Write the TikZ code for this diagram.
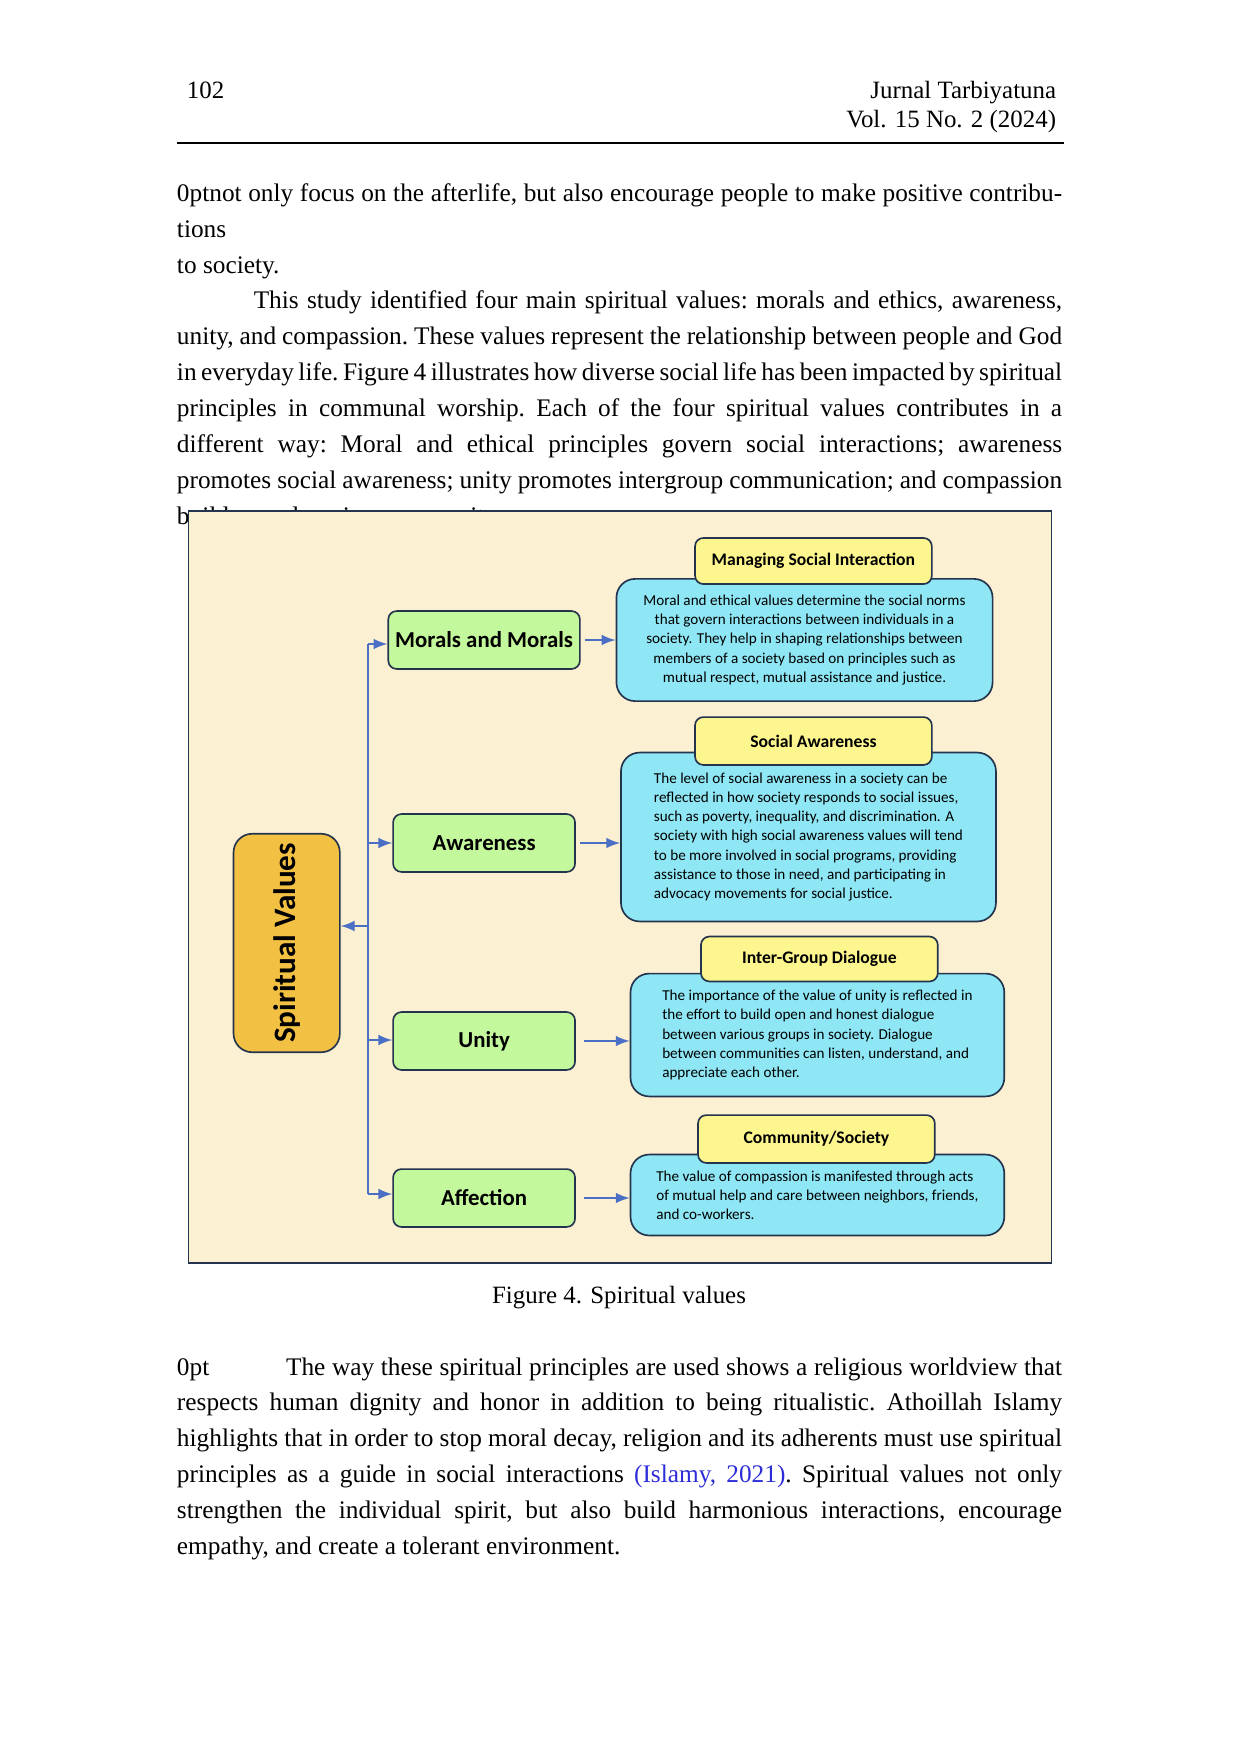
\documentclass[tikz,border=0pt]{standalone}
\usepackage{fontspec}
\setmainfont{Liberation Serif}
\newfontfamily\calib{Carlito}
\usepackage{tikz}

\definecolor{bgfig}{HTML}{FCF0D2}
\definecolor{svfill}{HTML}{F2C042}
\definecolor{grn}{HTML}{C4F89C}
\definecolor{blu}{HTML}{8FE6F4}
\definecolor{ylw}{HTML}{FDF68E}
\definecolor{edge}{HTML}{24344F}
\definecolor{arr}{HTML}{4A6FC4}
\definecolor{cite}{HTML}{2D2DD8}

\begin{document}
\begin{tikzpicture}[x=0.168mm,y=-0.16935mm,
  para/.style={anchor=north west,inner sep=0pt,text width=149.9mm,align=justify,font=\fontsize{12.2pt}{17.3pt}\selectfont\frenchspacing\hyphenpenalty=10000},
  grbox/.style={draw=edge,fill=grn,rounded corners=4pt,thick,font=\calib\bfseries\fontsize{11pt}{13pt}\selectfont},
  blbox/.style={draw=edge,fill=blu,rounded corners=9pt,thick,font=\calib\fontsize{7.3pt}{9.2pt}\selectfont},
  ylbox/.style={draw=edge,fill=ylw,rounded corners=4pt,thick,font=\calib\bfseries\fontsize{8.5pt}{10pt}\selectfont},
  link/.style={draw=arr,line width=1.3pt,-latex}]
\useasboundingbox (0,0) rectangle (1250,1752);

% header
\node[anchor=base west,font=\fontsize{12pt}{14pt}\selectfont] (pg) at (181,98) {102};
\node[anchor=base east,font=\fontsize{12pt}{14pt}\selectfont] (jr) at (1072,98) {Jurnal Tarbiyatuna};
\node[anchor=base east,font=\fontsize{12pt}{14pt}\selectfont] (vol) at (1072,127) {Vol. 15 No. 2 (2024)};
\draw[line width=0.8pt] (178,143) -- (1073,143);

% text above
\node[para] (top) at (178,183) {%
not only focus on the afterlife, but also encourage people to make positive contributions\linebreak to society.\par
\hspace*{13mm}This study identified four main spiritual values: morals and ethics, awareness,\linebreak unity, and compassion. These values represent the relationship between people and God\linebreak in everyday life. Figure 4 illustrates how diverse social life has been impacted by spiritual\linebreak principles in communal worship. Each of the four spiritual values contributes in a\linebreak different way: Moral and ethical principles govern social interactions; awareness\linebreak promotes social awareness; unity promotes intergroup communication; and compassion\linebreak builds a welcoming community.};

% figure
\draw[draw=edge,fill=bgfig,line width=0.6pt] (190,511) rectangle (1060,1263);

\node[draw=edge,fill=svfill,rounded corners=9pt,thick,minimum width=18mm,minimum height=37mm] (sv) at (289,943) {};
\node[rotate=90,font=\calib\bfseries\fontsize{15pt}{17pt}\selectfont] (svt) at (289,943) {Spiritual Values};

\node[grbox,minimum width=30.8mm,minimum height=9.8mm] (morals) at (488,640) {Morals and Morals};
\node[grbox,minimum width=30.8mm,minimum height=9.8mm] (aware) at (488,843) {Awareness};
\node[grbox,minimum width=30.8mm,minimum height=9.8mm] (unity) at (488,1041) {Unity};
\node[grbox,minimum width=30.8mm,minimum height=9.8mm] (affect) at (488,1198) {Affection};

% spine
\coordinate (s1) at (371,644);
\coordinate (s2) at (371,843);
\coordinate (s3) at (371,1040);
\coordinate (s4) at (371,1194);
\coordinate (sm) at (371,926);
\draw[draw=arr,line width=1.3pt] (s1) -- (s4);
\draw[link] (s1) -- (morals.west |- s1);
\draw[link] (s2) -- (aware.west |- s2);
\draw[link] (s3) -- (unity.west |- s3);
\draw[link] (s4) -- (affect.west |- s4);
\draw[link] (sm) -- (sv.east |- sm);

% descriptions
\node[blbox,minimum width=63.7mm,minimum height=20.7mm,align=center] (mtxt) at (811,640) {Moral and ethical values determine the social norms\\that govern interactions between individuals in a\\society. They help in shaping relationships between\\members of a society based on principles such as\\mutual respect, mutual assistance and justice.};
\node[blbox,minimum width=63.5mm,minimum height=28.6mm,align=left] (atxt) at (815,837) {The level of social awareness in a society can be\\reflected in how society responds to social issues,\\such as poverty, inequality, and discrimination. A\\society with high social awareness values will tend\\to be more involved in social programs, providing\\assistance to those in need, and participating in\\advocacy movements for social justice.};
\node[blbox,minimum width=63.3mm,minimum height=20.8mm,align=left] (utxt) at (824,1035) {The importance of the value of unity is reflected in\\the effort to build open and honest dialogue\\between various groups in society. Dialogue\\between communities can listen, understand, and\\appreciate each other.};
\node[blbox,minimum width=63.3mm,minimum height=13.7mm,align=left] (ctxt) at (824,1195) {The value of compassion is manifested through acts\\of mutual help and care between neighbors, friends,\\and co-workers.};

\node[ylbox,minimum width=40.1mm,minimum height=7.8mm] (mhd) at (820,561) {Managing Social Interaction};
\node[ylbox,minimum width=40.1mm,minimum height=8.1mm] (ahd) at (820,741) {Social Awareness};
\node[ylbox,minimum width=40.1mm,minimum height=7.6mm] (uhd) at (826,959) {Inter-Group Dialogue};
\node[ylbox,minimum width=40.1mm,minimum height=8.1mm] (chd) at (823,1139) {Community/Society};

\draw[link] (morals.east) ++(4,0) -- (mtxt.west |- morals.east);
\draw[link] (aware.east) ++(4,0) -- (atxt.west |- aware.east);
\draw[link] (unity.east) ++(8,0) -- (utxt.west |- unity.east);
\draw[link] (affect.east) ++(8,0) -- (ctxt.west |- affect.east);

% caption and text below
\node[font=\fontsize{12pt}{14pt}\selectfont] (cap) at (624,1298) {Figure 4. Spiritual values};
\node[para] (bot) at (178,1357) {%
\hspace*{13mm}The way these spiritual principles are used shows a religious worldview that\linebreak respects human dignity and honor in addition to being ritualistic. Athoillah Islamy\linebreak highlights that in order to stop moral decay, religion and its adherents must use spiritual\linebreak principles as a guide in social interactions \textcolor{cite}{(Islamy, 2021)}. Spiritual values not only\linebreak strengthen the individual spirit, but also build harmonious interactions, encourage\linebreak empathy, and create a tolerant environment.};
\end{tikzpicture}
\end{document}
